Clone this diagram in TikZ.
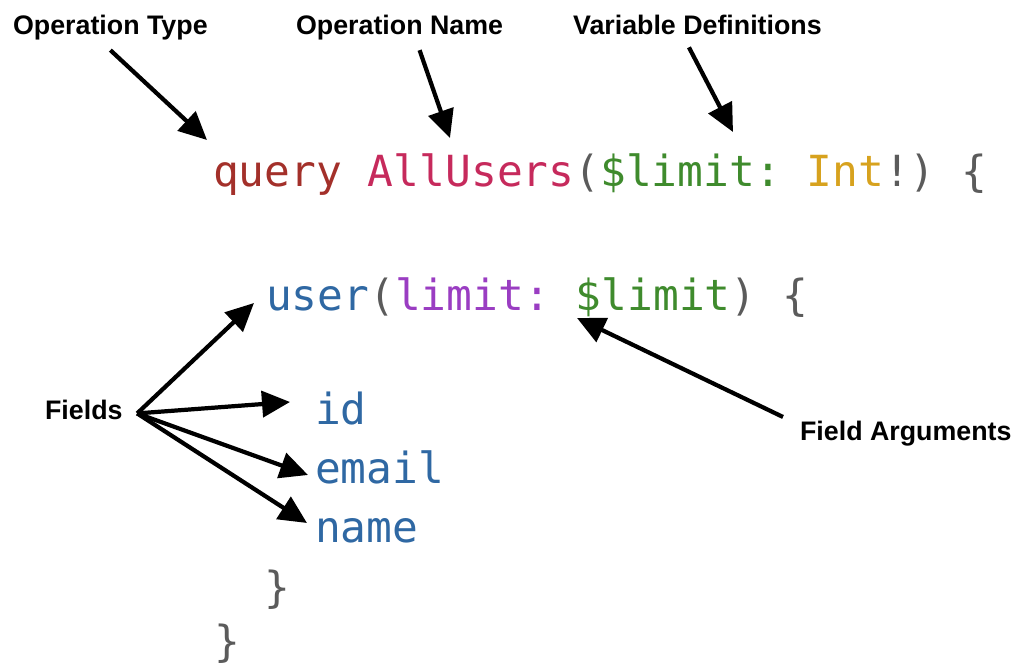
\documentclass[tikz,border=0pt]{standalone}
\usepackage{fontspec}
\setmonofont{DejaVu Sans Mono}
\setsansfont{Liberation Sans}
\usepackage{xcolor}
\usetikzlibrary{arrows.meta, positioning}
\definecolor{kwred}{HTML}{A3302A}
\definecolor{opmagenta}{HTML}{C62A5C}
\definecolor{punct}{HTML}{5B5B5B}
\definecolor{vargreen}{HTML}{3F8B2D}
\definecolor{typegold}{HTML}{D7A21E}
\definecolor{fieldblue}{HTML}{2F68A3}
\definecolor{argpurple}{HTML}{9A3DC2}
\frenchspacing
\tikzset{
>={Triangle[length=0.56cm,width=0.52cm]}, % big solid heads
every node/.style={inner sep=1pt},
callout/.style={font=\sffamily\bfseries\fontsize{15.25}{18}\selectfont, anchor=base west},
codeline/.style={font=\ttfamily\fontsize{24.4}{28}\selectfont, anchor=base west},
pointer/.style={->, line width=2.4pt},
}

\begin{document}
\begin{tikzpicture}[x=0.02cm,y=-0.02cm]
  \useasboundingbox (0,0) rectangle (1018,671);
  % callouts
  \node[callout] (optype) at (11,35) {Operation Type};
  \node[callout] (opname) at (294,35) {Operation Name};
  \node[callout] (vardefs) at (571,35) {Variable Definitions};
  \node[callout] (fields) at (43,420) {Fields};
  \node[callout] (fieldargs) at (798,441) {Field Arguments};
  % the query
  \node[codeline] (query) at (211,187) {\textcolor{kwred}{query} \textcolor{opmagenta}{AllUsers}\textcolor{punct}{(}\textcolor{vargreen}{\$limit:} \textcolor{typegold}{Int}\textcolor{punct}{!) \{}};
  \node[codeline] (user) at (264,311) {\textcolor{fieldblue}{user}\textcolor{punct}{(}\textcolor{argpurple}{limit:} \textcolor{vargreen}{\$limit}\textcolor{punct}{) \{}};
  \node[codeline] (id) at (313,425) {\textcolor{fieldblue}{id}};
  \node[codeline] (email) at (313,484) {\textcolor{fieldblue}{email}};
  \node[codeline] (name) at (313,543) {\textcolor{fieldblue}{name}};
  \node[codeline] (close1) at (262,603) {\textcolor{punct}{\}}};
  \node[codeline] (close2) at (212,657) {\textcolor{punct}{\}}};
  % where the arrows point
  \coordinate (typetip) at (207,140);
  \coordinate (nametip) at (450,138);
  \coordinate (vartip) at (733,132);
  \coordinate (usertip) at (254,303);
  \coordinate (idtip) at (290,402);
  \coordinate (emailtip) at (308,475);
  \coordinate (fnametip) at (307,523);
  \coordinate (argtip) at (577,318);
  \draw[pointer] ([yshift=-1.5mm]optype.south) -- (typetip);
  \draw[pointer] ([xshift=4mm,yshift=-1.5mm]opname.south) -- (nametip);
  \draw[pointer] ([xshift=-1.7mm,yshift=-2mm]vardefs.south) -- (vartip);
  \foreach \t in {usertip,idtip,emailtip,fnametip}
    \draw[pointer] ([xshift=2.5mm,yshift=-0.6mm]fields.east) -- (\t);
  \draw[pointer] ([xshift=-3mm,yshift=0.5mm]fieldargs.north west) -- (argtip);
\end{tikzpicture}
\end{document}
